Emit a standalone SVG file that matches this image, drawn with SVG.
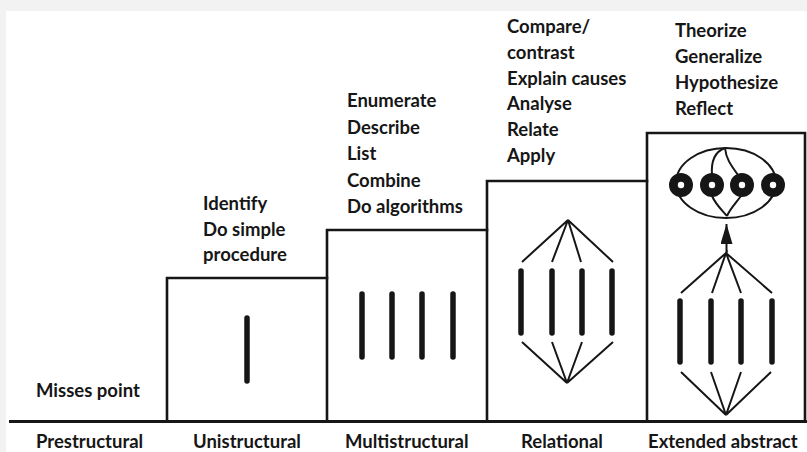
<svg xmlns="http://www.w3.org/2000/svg" width="807" height="452" viewBox="0 0 807 452">
<style>
.t{font-family:Lato,"Liberation Sans",sans-serif;font-size:18.5px;font-weight:700;fill:#161616}
.box{fill:none;stroke:#161616;stroke-width:2.6;stroke-linecap:square}
.bar{stroke:#161616;stroke-width:5.5;stroke-linecap:round}
.fan{fill:none;stroke:#161616;stroke-width:2}
.dot{fill:#161616}
.hole{fill:#fff}
</style>
<defs>
<marker id="ah" viewBox="0 0 20 12" refX="20" refY="6" markerWidth="20" markerHeight="12" markerUnits="userSpaceOnUse" orient="auto">
<path d="M20,6 L0,0 L0,12 Z" fill="#161616"/>
</marker>
</defs>
<rect x="0" y="0" width="807" height="452" fill="#f2f2f2"/>
<rect x="6" y="11" width="801" height="441" fill="#fff"/>

<g id="baseline"><line x1="9" y1="421.5" x2="807" y2="421.5" stroke="#161616" stroke-width="3"/></g>

<g id="prestructural">
<text class="t" x="36" y="397">Misses point</text>
<text class="t" x="36" y="448">Prestructural</text>
</g>

<g id="unistructural">
<path class="box" d="M167,421 V278 H327"/>
<line class="bar" x1="247" y1="318" x2="247" y2="381"/>
<text class="t" x="203" y="210">Identify<tspan x="203" dy="25.5">Do simple</tspan><tspan x="203" dy="25.5">procedure</tspan></text>
<text class="t" x="193" y="448">Unistructural</text>
</g>

<g id="multistructural">
<path class="box" d="M327,421 V230 H487"/>
<line class="bar" x1="362" y1="294" x2="362" y2="357"/>
<line class="bar" x1="392" y1="294" x2="392" y2="357"/>
<line class="bar" x1="422" y1="294" x2="422" y2="357"/>
<line class="bar" x1="453" y1="294" x2="453" y2="357"/>
<text class="t" x="347" y="107">Enumerate<tspan x="347" dy="26.5">Describe</tspan><tspan x="347" dy="26.5">List</tspan><tspan x="347" dy="26.5">Combine</tspan><tspan x="347" dy="26.5">Do algorithms</tspan></text>
<text class="t" x="345" y="448">Multistructural</text>
</g>

<g id="relational">
<path class="box" d="M487,421 V181 H647"/>
<line class="bar" x1="521" y1="271" x2="521" y2="333"/>
<line class="bar" x1="552" y1="271" x2="552" y2="333"/>
<line class="bar" x1="582" y1="271" x2="582" y2="333"/>
<line class="bar" x1="612" y1="271" x2="612" y2="333"/>
<text class="t" x="507" y="33">Compare/<tspan x="507" dy="25.8">contrast</tspan><tspan x="507" dy="25.8">Explain causes</tspan><tspan x="507" dy="25.8">Analyse</tspan><tspan x="507" dy="25.8">Relate</tspan><tspan x="507" dy="25.8">Apply</tspan></text>
<text class="t" x="521" y="448">Relational</text>
</g>

<g id="extended-abstract">
<path class="box" d="M647,421 V133 H805 V421"/>
<ellipse cx="726" cy="183" rx="50" ry="35" class="fan"/>
<path class="fan" d="M725,148 C714,152 711,162 712,175"/>
<path class="fan" d="M725,148 C726,158 730,164 738,175"/>
<path class="fan" d="M712,196 C716,205 722,210 727,216"/>
<path class="fan" d="M741,196 C735,204 730,209 727,216"/>
<circle class="dot" cx="681" cy="185" r="12"/><circle class="hole" cx="681" cy="185" r="3.2"/>
<circle class="dot" cx="712" cy="185" r="12"/><circle class="hole" cx="712" cy="185" r="3.2"/>
<circle class="dot" cx="742" cy="185" r="12"/><circle class="hole" cx="742" cy="185" r="3.2"/>
<circle class="dot" cx="773" cy="185" r="12"/><circle class="hole" cx="773" cy="185" r="3.2"/>
<line class="bar" x1="680" y1="301" x2="680" y2="362"/>
<line class="bar" x1="711" y1="301" x2="711" y2="362"/>
<line class="bar" x1="741" y1="301" x2="741" y2="362"/>
<line class="bar" x1="772" y1="301" x2="772" y2="362"/>
<text class="t" x="675" y="37">Theorize<tspan x="675" dy="26">Generalize</tspan><tspan x="675" dy="26">Hypothesize</tspan><tspan x="675" dy="26">Reflect</tspan></text>
<text class="t" x="648" y="448">Extended abstract</text>
</g>

<g id="connectors">
<path class="fan" d="M522,262 L568,220 L552,262 M568,220 L581,262 M568,220 L613,262"/>
<path class="fan" d="M522,342 L567,383 L552,342 M567,383 L582,342 M567,383 L613,342"/>
<path class="fan" d="M681,293 L726,253 L712,293 M726,253 L741,293 M726,253 L772,293"/>
<path class="fan" d="M681,372 L726,415 L711,372 M726,415 L741,372 M726,415 L771,372"/>
<line class="fan" x1="726.5" y1="253" x2="726.5" y2="224" marker-end="url(#ah)"/>
</g>
</svg>
